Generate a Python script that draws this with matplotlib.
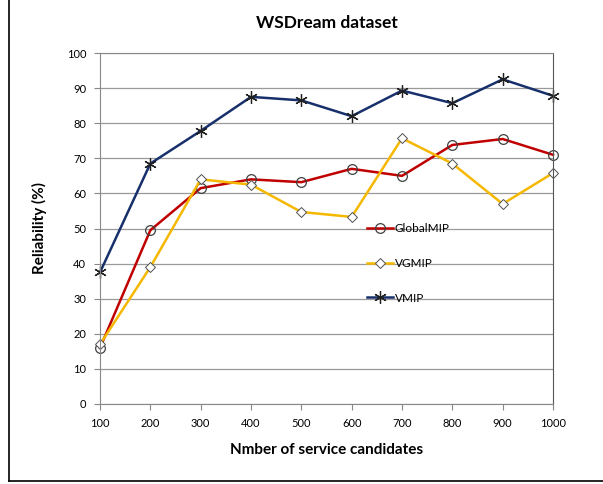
import matplotlib.pyplot as plt
from matplotlib.lines import Line2D

plt.rcParams['font.family'] = ['Lato', 'DejaVu Sans']

# data
candidates = [100, 200, 300, 400, 500, 600, 700, 800, 900, 1000]
global_mip = [16, 49.5, 61.5, 64, 63.2, 67, 65, 73.8, 75.5, 71]
vg_mip = [17, 39, 64, 62.5, 54.7, 53.3, 75.7, 68.5, 57, 65.8]
v_mip = [37.5, 68.5, 77.8, 87.5, 86.5, 82, 89.3, 85.7, 92.5, 87.8]

fig = plt.figure(figsize=(6.03, 4.84), dpi=100)
ax = fig.add_axes([100 / 603, 1 - 404 / 484, 453 / 603, 351 / 484])

x = list(range(len(candidates)))
ax.plot(x, global_mip, color="#c00000", lw=1.8, marker="o", ms=7,
        mfc="none", mec="#404040", mew=0.9, label="GlobalMIP", clip_on=False)
ax.plot(x, vg_mip, color="#f5b800", lw=1.8, marker="D", ms=5.5,
        mfc="white", mec="#505050", mew=0.7, label="VGMIP", clip_on=False)
ax.plot(x, v_mip, color="#17306b", lw=1.8, marker=(6, 2, 0), ms=9,
        mec="#202020", mew=0.9, label="VMIP", clip_on=False)

ax.set_xlim(0, len(candidates) - 1)
ax.set_ylim(0, 100)
ax.set_xticks(x)
ax.set_xticklabels([str(c) for c in candidates])
ax.set_yticks(range(0, 101, 10))
ax.tick_params(labelsize=8, length=4, color="#888888", pad=6)
ax.grid(axis="y", color="#999999", lw=0.9)
ax.set_axisbelow(True)
for s in ax.spines.values():
    s.set_color("#888888")
ax.spines["right"].set_color("#555555")

ax.set_title("WSDream dataset", fontsize=12.5, fontweight="bold", pad=18)
ax.set_xlabel("Nmber of service candidates", fontsize=11, fontweight="bold", labelpad=10)
ax.set_ylabel("Reliability (%)", fontsize=11, fontweight="bold", labelpad=14)

ax.legend(loc="upper left", bbox_to_anchor=(0.565, 0.545), frameon=False,
          fontsize=8.5, labelspacing=2.0, handlelength=2.2, handletextpad=0.2)

# outer frame (left and bottom edges)
fig.add_artist(Line2D([9 / 603, 9 / 603], [1 - 481 / 484, 1], color="black", lw=1.2))
fig.add_artist(Line2D([9 / 603, 1], [1 - 481 / 484, 1 - 481 / 484], color="black", lw=1.2))

fig.savefig("out.png", dpi=100)
